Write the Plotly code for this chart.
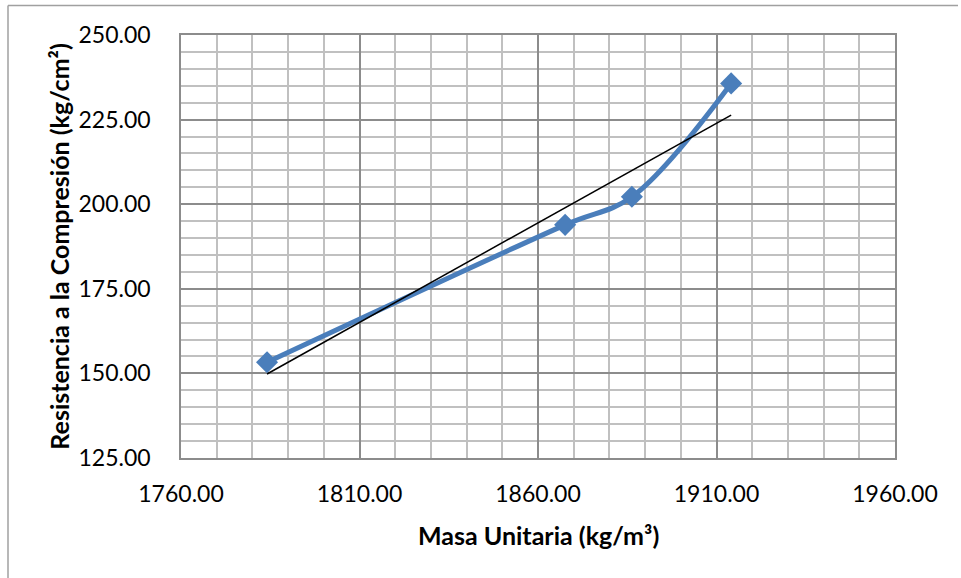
import numpy as np
import plotly.graph_objects as go

# Data
masa_unitaria = [1784.1, 1867.6, 1886.3, 1914.1]      # kg/m3
resistencia = [153.3, 193.9, 202.2, 235.7]            # kg/cm2

x_title = "Masa Unitaria (kg/m³)"
y_title = "Resistencia a la Compresión (kg/cm²)"

# Linear trend line (least squares) over the data range
slope, intercept = np.polyfit(masa_unitaria, resistencia, 1)
trend_x = [min(masa_unitaria), max(masa_unitaria)]
trend_y = [slope * v + intercept for v in trend_x]

blue = "#4A7EBB"
font_family = "Lato, Open Sans, sans-serif"

fig = go.Figure()
fig.add_trace(go.Scatter(
    x=masa_unitaria, y=resistencia, mode="lines+markers",
    line=dict(color=blue, width=5, shape="spline", smoothing=1),
    marker=dict(symbol="diamond", size=17, color=blue),
    showlegend=False,
))
fig.add_trace(go.Scatter(
    x=trend_x, y=trend_y, mode="lines",
    line=dict(color="black", width=1.5),
    showlegend=False,
))

major_grid = "#8C8C8C"
minor_grid = "#C0C0C0"

fig.update_xaxes(
    range=[1760, 1960], tick0=1760, dtick=50, tickformat=".2f",
    showgrid=True, gridcolor=major_grid, gridwidth=1.5,
    minor=dict(dtick=10, tick0=1760, showgrid=True, gridcolor=minor_grid, gridwidth=1.5),
    showline=True, linecolor=major_grid, linewidth=1.5, mirror=True,
    zeroline=False, ticks="", ticklabelstandoff=15,
    tickfont=dict(family=font_family, size=23, color="black"),
)
fig.update_yaxes(
    range=[125, 250], tick0=125, dtick=25, tickformat=".2f",
    showgrid=True, gridcolor=major_grid, gridwidth=1.5,
    minor=dict(dtick=5, tick0=125, showgrid=True, gridcolor=minor_grid, gridwidth=1.5),
    showline=True, linecolor=major_grid, linewidth=1.5, mirror=True,
    zeroline=False, ticks="", ticklabelstandoff=24,
    tickfont=dict(family=font_family, size=23, color="black"),
)

fig.add_annotation(
    text="<b>" + x_title + "</b>", xref="paper", yref="paper",
    x=0.5, y=-0.182, xanchor="center", yanchor="middle", showarrow=False,
    font=dict(family=font_family, size=25, color="black"),
)
fig.add_annotation(
    text="<b>" + y_title + "</b>", xref="paper", yref="paper",
    x=-0.172, y=0.5, xanchor="center", yanchor="middle", showarrow=False,
    textangle=-90, font=dict(family=font_family, size=25, color="black"),
)

# Chart area border (left, top)
fig.add_shape(type="line", xref="paper", yref="paper",
              x0=(8 - 181) / 714, x1=(8 - 181) / 714, y0=(458 - 578) / 422.5, y1=(458 - 6) / 422.5,
              line=dict(color="#A0A0A0", width=1.5))
fig.add_shape(type="line", xref="paper", yref="paper",
              x0=(8 - 181) / 714, x1=(958 - 181) / 714, y0=(458 - 6) / 422.5, y1=(458 - 6) / 422.5,
              line=dict(color="#A0A0A0", width=1.5))

fig.update_layout(
    width=961, height=578,
    margin=dict(l=181, r=66, t=35, b=120),
    paper_bgcolor="white", plot_bgcolor="white",
    font=dict(family=font_family, color="black"),
)

fig.write_html("out.html")
